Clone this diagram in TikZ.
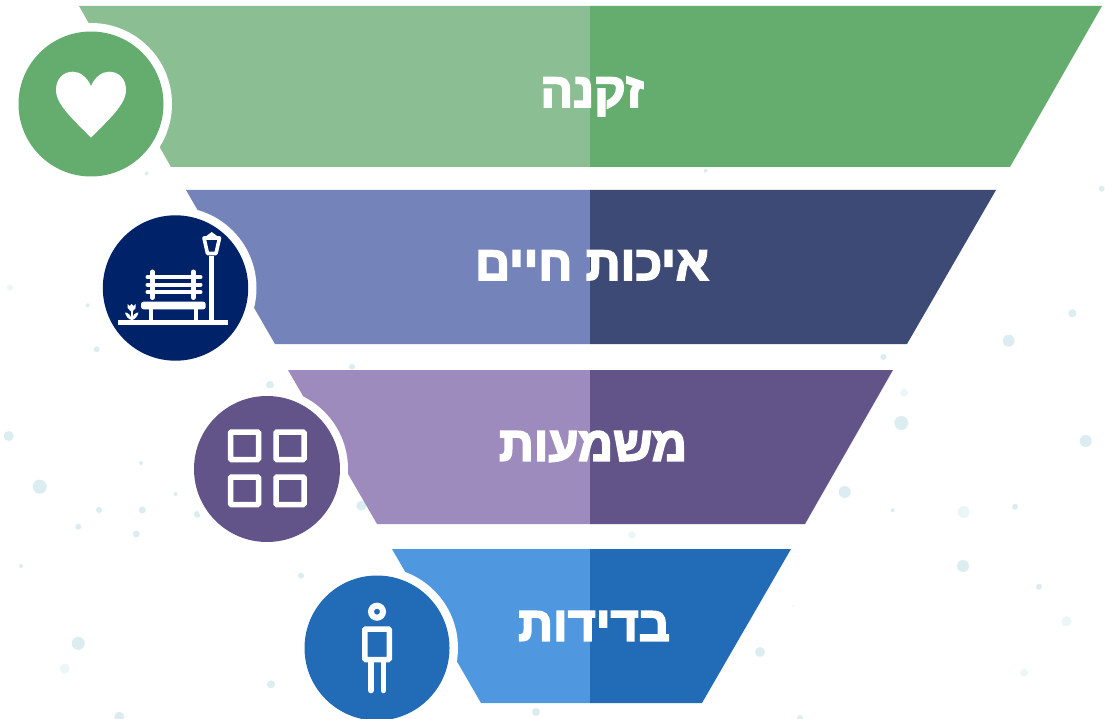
\documentclass[tikz,border=0pt]{standalone}
\usepackage{fontspec}
\TeXXeTstate=1
\newfontfamily\hebfont[Script=Hebrew,FakeBold=3.6]{Liberation Sans Bold}
\definecolor{gD}{HTML}{65AD6E}\definecolor{gL}{HTML}{8BBE93}
\definecolor{bD}{HTML}{3C4A75}\definecolor{bL}{HTML}{7484BA}
\definecolor{pD}{HTML}{625488}\definecolor{pL}{HTML}{9D8BBD}
\definecolor{cD}{HTML}{226BB6}\definecolor{cL}{HTML}{4F98E0}
\definecolor{navy}{HTML}{002269}
\definecolor{dotA}{HTML}{DCEDF1}\definecolor{dotB}{HTML}{EDF6F7}
\tikzset{
  label text/.style={text=white,inner sep=0pt,anchor=base,font=\hebfont\fontsize{48.5}{48.5}\selectfont},
  icon line/.style={draw=white,line width=#1},
  icon line/.default=5.5pt,
}
\begin{document}
\begin{tikzpicture}[x=1pt,y=-1pt,line cap=butt]
\useasboundingbox (0,0) rectangle (1105,719);
\fill[white] (0,0) rectangle (1105,719);
% background specks
\foreach \x/\y/\r in {8.7/436/5,39.7/486.7/7,141/463/2,175.7/494/2,99/510/3,142.3/510/3.5,197.3/514.3/3.5,78.3/526.7/3,136.3/534/3.5,21/566/2,361.3/505.7/5,301/575.7/3,78.3/643.3/6.5,271/684.3/4,119.3/716.7/5,270/385/4,352/366.7/3,901.3/423/7,1085.7/441/6,844.7/492/6,892.7/510.3/2,1015/506.7/3,963/566/6,1039/586.7/3,760/652/5,800/718/3,1101.7/188.7/3,1072.3/313.3/4,1008.7/340.7/6,883.3/357/3,146.7/173.3/2,87.7/305.3/2,96.7/349.3/3,705.7/170.7/2,536/712/4}
  \fill[dotA] (\x,\y) circle[radius=\r];
\foreach \x/\y/\r in {64.7/668.7/5,904/392.7/4,963.7/512/6,1066.3/621.3/5,1024/672.7/4,793/605.7/1,10/287.7/3,632/535/3.8}
  \fill[dotB] (\x,\y) circle[radius=\r];
% bands
\fill[gL] (79,6) -- (590,6) -- (590,167) -- (171,167) -- cycle;
\fill[gD] (590,6) -- (1102,6) -- (1010,167) -- (590,167) -- cycle;
\fill[bL] (186,190) -- (590,190) -- (590,344) -- (275,344) -- cycle;
\fill[bD] (590,190) -- (996,190) -- (907,344) -- (590,344) -- cycle;
\fill[pL] (288,370) -- (590,370) -- (590,524) -- (377,524) -- cycle;
\fill[pD] (590,370) -- (893,370) -- (805,524) -- (590,524) -- cycle;
\fill[cL] (392,549) -- (590,549) -- (590,703) -- (481,703) -- cycle;
\fill[cD] (590,549) -- (791,549) -- (702,703) -- (590,703) -- cycle;
% badges
\fill[white] (91,104) circle[radius=81];
\fill[gD] (91,104) circle[radius=72.5];
\fill[white] (175.5,288) circle[radius=81];
\fill[navy] (175.5,288) circle[radius=72.7];
\fill[white] (267,469) circle[radius=81];
\fill[pD] (267,469) circle[radius=73];
\fill[white] (377,648) circle[radius=81];
\fill[cD] (377,648) circle[radius=72.5];
% heart
\fill[white] (91,86) .. controls (95,77) and (102,71.7) .. (109,71.7)
  .. controls (119,71.7) and (126,79) .. (126,90)
  .. controls (126,105) and (108,120) .. (91,137.7)
  .. controls (74,120) and (56,105) .. (56,90)
  .. controls (56,79) and (63,71.7) .. (73,71.7)
  .. controls (80,71.7) and (87,77) .. (91,86) -- cycle;
% bench and lamp
\draw[icon line=5pt] (118.3,322.7) -- (228.3,322.7);
\draw[icon line=4.5pt] (211.7,322) -- (211.7,256);
\draw[icon line=3.6pt,line join=round] (204,238) -- (219.5,238) -- (216,253.5) -- (207.5,253.5) -- cycle;
\fill[white] (205,237) -- (211.7,232) -- (218.5,237) -- cycle;
\fill[white,rounded corners=2.5pt] (141,301.7) rectangle (205.7,309.3);
\draw[icon line=4pt] (150.7,309) -- (150.7,322) (196,309) -- (196,322);
\draw[icon line=4pt,line cap=round] (147.5,277.3) -- (200.5,277.3) (147.5,284.7) -- (200.5,284.7) (147.5,292.3) -- (200.5,292.3);
\draw[icon line=5pt,line cap=round] (152.3,272) -- (152.3,297.5) (193.3,272) -- (193.3,297.5);
\draw[icon line=1.6pt] (131.7,309) -- (131.7,321);
\fill[white] (127.7,304) -- (129.7,306) -- (131.7,304) -- (133.7,306) -- (135.7,304) -- (135.7,308) -- (133,311) -- (130.4,311) -- (127.7,308) -- cycle;
\fill[white] (125,312.5) .. controls (128,312.5) and (131,315) .. (131.7,320) .. controls (128,319.5) and (126,316) .. (125,312.5) -- cycle;
\fill[white] (138.5,312.5) .. controls (135.5,312.5) and (132.5,315) .. (131.7,320) .. controls (135.5,319.5) and (137.5,316) .. (138.5,312.5) -- cycle;
% four squares
\foreach \x/\y in {230.5/432,276/432,230.5/477,276/477}
  \draw[icon line,rounded corners=1pt] (\x,\y) rectangle ++(28,27.6);
% person
\draw[icon line=6pt] (377,611.7) circle[radius=6];
\draw[icon line,rounded corners=1pt] (364.8,629) rectangle (389.3,659.5);
\draw[icon line,line cap=round] (371,660) -- (371,690.5) (383.3,660) -- (383.3,690.5);
% labels
\node[label text] (t1) at (592,107) {\beginR זקנה\endR};
\node[label text] (t2) at (592,280) {\beginR איכות חיים\endR};
\node[label text] (t3) at (593,460.7) {\beginR משמעות\endR};
\node[label text] (t4) at (594,640.7) {\beginR בדידות\endR};
\end{tikzpicture}
\end{document}
